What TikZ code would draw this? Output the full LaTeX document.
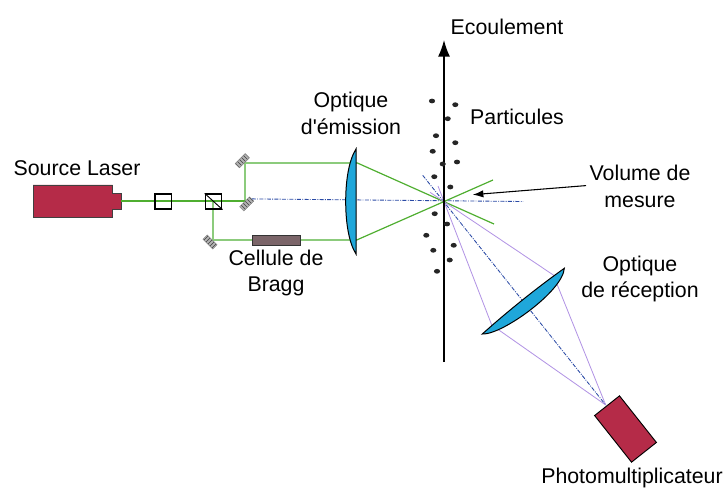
\documentclass[tikz,border=0pt]{standalone}
\usepackage{fontspec}
\setmainfont{Liberation Sans}[Ligatures=TeXOff]
\usetikzlibrary{arrows.meta,patterns,shapes.geometric}

\definecolor{laserred}{HTML}{B52B48}
\definecolor{lensblue}{HTML}{1FA7DA}
\definecolor{braggrey}{HTML}{7B6569}
\definecolor{beamgreen}{HTML}{4FAE30}
\definecolor{lightgreen}{HTML}{8CCB7C}
\definecolor{rayviolet}{HTML}{B294E4}
\definecolor{axisblue}{HTML}{2A4AA5}

\tikzset{
  lbl/.style={inner sep=0pt,align=center,font=\fontsize{16}{20.2}\selectfont},
  redbox/.style={draw=black!75,fill=laserred,line width=.7pt,inner sep=0pt},
  cube/.style={draw=black,line width=.9pt,inner sep=0pt,minimum width=12.4pt,minimum height=11.2pt},
  mirror/.style={preaction={fill=black!30},draw=black!50,line width=.3pt,
    inner sep=0pt,minimum width=10.5pt,minimum height=4.5pt},
  lens/.style={draw=black,fill=lensblue,line width=.75pt},
  beam/.style={beamgreen,line width=.9pt},
  widebeam/.style={lightgreen,line width=1.4pt},
  ray/.style={rayviolet,line width=.62pt},
  axisline/.style={axisblue,line width=.65pt,densely dash dot},
  particle/.style={ellipse,fill=black!85,inner sep=0pt,minimum width=4.6pt,minimum height=3.6pt}
}

\begin{document}
\begin{tikzpicture}[x=.75pt,y=-.75pt]
  \useasboundingbox (0,0) rectangle (724,488);

  \coordinate (top) at (444,40);
  \coordinate (bottom) at (444,362);
  \coordinate (axisend) at (523,201.5);
  \coordinate (tiltstart) at (422.7,175.3);
  \coordinate (pmtpoint) at (605.7,405);
  \coordinate (lensonetop) at (356.7,162.7);
  \coordinate (lensonebot) at (356.7,240);
  \coordinate (greenup) at (493,180);
  \coordinate (greendown) at (494,224);
  \coordinate (raystartA) at (438,186);
  \coordinate (raystartB) at (430,192.3);
  \coordinate (lensedgeA) at (491.7,325);
  \coordinate (lensedgeB) at (553.3,275);
  \coordinate (voltip) at (472.7,194.7);
  \coordinate (snout) at (121,201);
  \coordinate (split) at (213,201);
  \coordinate (turnup) at (245,201);
  \coordinate (turntop) at (245,162.7);

  \draw[redbox] (33,185) -- (112.7,185) -- (112.7,193.3) -- (121,193.3) -- (121,209)
        -- (112.7,209) -- (112.7,217.7) -- (33,217.7) -- cycle;
  \node (pmt) at (625.5,429) [redbox,draw=black,rotate=-51.6,minimum width=44.6pt,minimum height=23.8pt] {};

  % laser path
  \draw[widebeam] (turnup) -- (turntop) -- (lensonetop);
  \node (bragg) at (276.3,240) [draw=black!80,fill=braggrey,line width=.6pt,inner sep=0pt,
        minimum width=36pt,minimum height=7.5pt] {};
  \draw[widebeam] (split) |- (bragg.west);
  \draw[widebeam] (bragg.east) -- (lensonebot);
  \draw[beam] (snout) -- (turnup);

  \node (cubeone) at (163.3,201.5) [cube] {};
  \node (cubetwo) at (213.6,201.5) [cube] {};
  \draw[black,line width=.7pt] (cubetwo.north west) -- (cubetwo.south east);

  \node (mirtop) at (242.3,160.7) [mirror,rotate=45,pattern=north west lines,pattern color=black!75] {};
  \node (mirmid) at (246.7,204) [mirror,rotate=45,pattern=north west lines,pattern color=black!75] {};
  \node (mirbot) at (210,242) [mirror,rotate=-45,pattern=north east lines,pattern color=black!75] {};

  \draw[axisline] (mirmid.east) -- (axisend);
  \draw[axisline] (tiltstart) -- (pmtpoint);

  % crossing beams
  \draw[beam] (lensonetop) -- (greendown);
  \draw[beam] (lensonebot) -- (greenup);

  % collected light
  \draw[ray] (raystartA) -- (lensedgeA) -- (pmtpoint);
  \draw[ray] (raystartB) -- (lensedgeB) -- (pmtpoint);

  \draw[-{Latex[length=12.5pt,width=9pt]},line width=1pt] (bottom) -- (top);
  \draw[-{Latex[length=8pt,width=5.5pt]},line width=.8pt] (586,185.6) -- (voltip);

  \draw[lens] (356,149) .. controls (349,160) and (345.7,180) .. (345.7,201.5)
        .. controls (345.7,223) and (349,243) .. (356,254) -- cycle;
  \draw[lens] (564.3,268.3) .. controls (563,291) and (502,335) .. (482.3,334)
        .. controls (508,311) and (536,288.5) .. cycle;

  \foreach \i/\px/\py in {1/432/101,2/455.3/104.7,3/447.7/118.7,4/436/135.7,5/455.3/142.7,
        6/432.7/151.3,7/457/162,8/442.7/164,9/434.3/176.7,10/450.3/187,11/434.7/213.7,
        12/447/224,13/426.3/235.3,14/453.7/245.3,15/433.3/250.3,16/449.7/260,17/437/271.3}
    \node (part\i) at (\px,\py) [particle] {};

  \node (ecoul) at (507,27) [lbl] {Ecoulement};
  \node (emis) at (351,113) [lbl] {Optique\\d'émission};
  \node (partic) at (517,117) [lbl] {Particules};
  \node (source) at (77,168) [lbl] {Source Laser};
  \node (volume) at (640,186) [lbl] {Volume de\\mesure};
  \node (cellule) at (276,273) [lbl] {Cellule de\\Bragg};
  \node (recep) at (640,279) [lbl] {Optique\\de réception};
  \node (photo) at (632,478) [lbl] {Photomultiplicateur};
\end{tikzpicture}
\end{document}
